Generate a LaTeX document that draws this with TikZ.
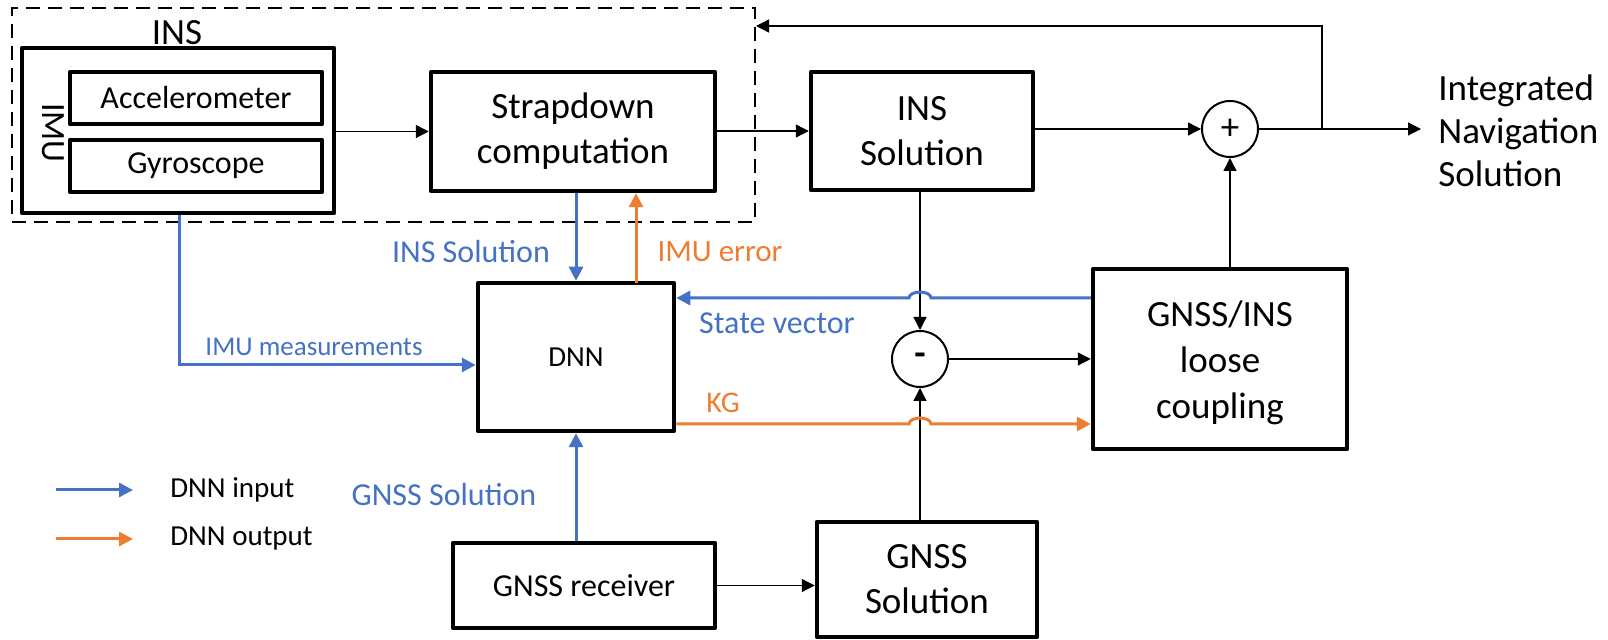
\documentclass[tikz,border=0pt]{standalone}
\usepackage{fontspec}
\setmainfont{Carlito}
\usetikzlibrary{arrows.meta,calc}
\definecolor{dnnblue}{HTML}{4472C4}
\definecolor{dnnorange}{HTML}{ED7D31}

\begin{document}
\begin{tikzpicture}[x=0.5pt,y=-0.5pt,
  blk/.style 2 args={draw, line width=2.25pt, line join=round, inner sep=0pt,
    align=center, minimum width=#1, minimum height=#2},
  bigtxt/.style={font=\fontsize{18.5}{22.5}\selectfont},
  midtxt/.style={font=\fontsize{16}{19}\selectfont},
  smalltxt/.style={font=\fontsize{14.5}{17}\selectfont},
  sumnode/.style={draw, circle, line width=1pt, minimum size=28pt, inner sep=0pt,
    font=\fontsize{18.5}{20}\selectfont},
  thinflow/.style={line width=0.65pt, -{Triangle[length=6.5pt,width=6.5pt]}},
  blueflow/.style={draw=dnnblue, line width=1.5pt, -{Triangle[length=7pt,width=7pt]}},
  orangeflow/.style={draw=dnnorange, line width=1.5pt, -{Triangle[length=7pt,width=7pt]}},
  bluetxt/.style={text=dnnblue, inner sep=0pt},
  orangetxt/.style={text=dnnorange, inner sep=0pt}
]
\useasboundingbox (0,0) rectangle (1608,640);

% INS block (dashed frame)
\node[draw, dash pattern=on 7pt off 4pt, line width=1pt, inner sep=0pt,
  minimum width=371.5pt, minimum height=107pt] (insbox) at (383.5,115) {};
\node[bigtxt, inner sep=0pt] (inslbl) at (177,33) {INS};

% IMU with its sensors
\node[blk={156pt}{82.5pt}] (imu) at (178,130.5) {};
\node[font=\fontsize{17}{20}\selectfont, rotate=-90, inner sep=0pt] (imulbl) at (53,133) {IMU};
\node[blk={126pt}{26pt}, midtxt] (acc) at (196,98) {Accelerometer};
\node[blk={126pt}{26pt}, midtxt] (gyro) at (196,166) {Gyroscope};

% main blocks
\node[blk={142pt}{59.5pt}, bigtxt] (strap) at (573,131.5) {Strapdown\\computation};
\node[blk={111pt}{59pt}, bigtxt] (inssol) at (922,131) {INS\\Solution};
\node[blk={98pt}{74pt}, smalltxt] (dnn) at (576,357) {DNN};
\node[blk={127pt}{90pt}, font=\fontsize{18.5}{23}\selectfont] (lc) at (1220,359)
  {\rule{0pt}{17pt}GNSS/INS\\loose\\coupling};
\node[blk={131pt}{42.5pt}, font=\fontsize{16}{19}\selectfont] (rx) at (584,585.5) {GNSS receiver};
\node[blk={110pt}{57.5pt}, bigtxt] (gsol) at (927,579.5) {GNSS\\Solution};

% summing junctions
\node[sumnode] (plus) at (1230,129) {+};
\node[sumnode] (minus) at (920,359) {\textbf{-}};

% output
\coordinate (outend) at (1421,129);
\coordinate (branch) at (1322,129);
\coordinate (fbtop) at (1322,26);
\node[anchor=west, align=left, inner sep=0pt,
  font=\fontsize{18.5}{21.5}\selectfont] (outlbl) at (1438,131)
  {Integrated\\Navigation\\Solution};

% black signal flow
\draw[thinflow] (imu.east |- strap.west) -- (strap.west);
\draw[thinflow] (strap.east |- inssol.west) -- (inssol.west);
\draw[thinflow] (inssol.east |- plus.west) -- (plus.west);
\draw[thinflow] (plus.east) -- (outend);
\draw[thinflow] (branch) -- (fbtop) -- (insbox.east |- fbtop);
\draw[thinflow] (minus.north |- inssol.south) -- (minus.north);
\draw[thinflow] (minus.south |- gsol.north) -- (minus.south);
\draw[thinflow] (minus.east) -- (minus.east -| lc.west);
\draw[thinflow] (plus.south |- lc.north) -- (plus.south);
\draw[thinflow] (rx.east) -- (rx.east -| gsol.west);

% DNN inputs and outputs
\coordinate (errx) at (636,283);
\coordinate (measy) at (179,365);
\coordinate (svy) at (1000,298);
\coordinate (kgy) at (1000,424);
\draw[blueflow] (strap.south -| dnn.north) -- (dnn.north);
\draw[orangeflow] (errx) -- (errx |- strap.south);
\draw[blueflow] (imu.south -| measy) -- (measy) -- (measy -| dnn.west);
\draw[blueflow] (lc.west |- svy) -- ($(minus.north |- svy)+(11,0)$)
  arc[start angle=0, end angle=-180, x radius=11, y radius=6] -- (dnn.east |- svy);
\draw[orangeflow] (dnn.east |- kgy) -- ($(minus.north |- kgy)+(-11,0)$)
  arc[start angle=180, end angle=360, x radius=11, y radius=6] -- (lc.west |- kgy);
\draw[blueflow] (rx.north -| dnn.south) -- (dnn.south);

% connector labels
\node[bluetxt, midtxt] (lblins) at (471,252) {INS Solution};
\node[orangetxt, font=\fontsize{15.5}{18}\selectfont] (lblerr) at (720,252) {IMU error};
\node[bluetxt, font=\fontsize{13.5}{16}\selectfont] (lblmeas) at (314,347) {IMU measurements};
\node[bluetxt, midtxt] (lblsv) at (777,323) {State vector};
\node[orangetxt, font=\fontsize{15}{18}\selectfont] (lblkg) at (723,403) {KG};
\node[bluetxt, font=\fontsize{16}{19}\selectfont] (lblgs) at (444,495) {GNSS Solution};

% legend
\coordinate (lgia) at (56,490);
\coordinate (lgib) at (133,490);
\coordinate (lgoa) at (56,539);
\coordinate (lgob) at (133,539);
\draw[blueflow] (lgia) -- (lgib);
\draw[orangeflow] (lgoa) -- (lgob);
\node[smalltxt, anchor=west, inner sep=0pt] (lgin) at (170,490) {DNN input};
\node[smalltxt, anchor=west, inner sep=0pt] (lgout) at (170,539) {DNN output};
\end{tikzpicture}
\end{document}
